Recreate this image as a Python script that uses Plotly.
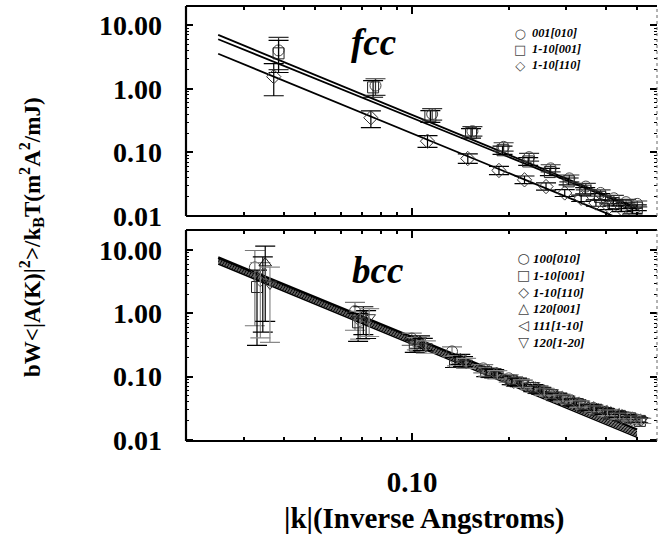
import plotly.graph_objects as go

# ---------------- data ----------------
# fcc panel
fcc_k_circle = [0.0385, 0.0770, 0.1155, 0.1540, 0.1925, 0.2310, 0.2695, 0.3080, 0.3465, 0.3850, 0.4235, 0.4620, 0.5005]
fcc_v_circle = [4.0, 1.12, 0.40, 0.215, 0.122, 0.084, 0.056, 0.039, 0.029, 0.023, 0.019, 0.0165, 0.0155]
fcc_k_square = [0.0385, 0.0757, 0.1140, 0.1525, 0.1910, 0.2295, 0.2680, 0.3065, 0.3450, 0.3835, 0.4220, 0.4605, 0.4990]
fcc_v_square = [3.6, 1.05, 0.37, 0.20, 0.108, 0.072, 0.049, 0.035, 0.025, 0.020, 0.016, 0.0145, 0.0135]
fcc_k_diamond = [0.0372, 0.0745, 0.1117, 0.1490, 0.1862, 0.2235, 0.2607, 0.2980, 0.3352, 0.3725, 0.4097, 0.4470, 0.4842]
fcc_v_diamond = [1.55, 0.35, 0.15, 0.080, 0.052, 0.037, 0.029, 0.023, 0.019, 0.016, 0.014, 0.013, 0.012]
fcc_err_up = [0.6, 0.28, 0.22, 0.18, 0.16, 0.15, 0.14, 0.13, 0.12, 0.12, 0.11, 0.11, 0.11]
fcc_err_dn = [0.5, 0.30, 0.20, 0.16, 0.14, 0.13, 0.12, 0.12, 0.11, 0.11, 0.10, 0.10, 0.10]

fit_k = [0.025, 0.5]
fcc_fit_circle = [7.0, 0.0135]
fcc_fit_square = [6.0, 0.0128]
fcc_fit_diamond = [3.55, 0.0070]

# bcc panel
bcc_k_circle = [0.0325, 0.0665, 0.0998, 0.1331, 0.1664, 0.1997, 0.2330, 0.2663, 0.2996, 0.3329, 0.3662, 0.3995, 0.4328, 0.4661, 0.4994]
bcc_v_circle = [5.3, 1.08, 0.40, 0.25, 0.135, 0.094, 0.071, 0.055, 0.044, 0.037, 0.032, 0.028, 0.025, 0.023, 0.021]
bcc_k_square = [0.0330, 0.0680, 0.1020, 0.1360, 0.1700, 0.2040, 0.2380, 0.2720, 0.3060, 0.3400, 0.3740, 0.4080, 0.4420, 0.4760, 0.5100]
bcc_v_square = [2.6, 0.72, 0.31, 0.17, 0.118, 0.086, 0.066, 0.051, 0.041, 0.034, 0.030, 0.026, 0.024, 0.022, 0.020]
bcc_k_diamond = [0.0338, 0.0690, 0.1035, 0.1380, 0.1725, 0.2070, 0.2415, 0.2760, 0.3105, 0.3450, 0.3795, 0.4140, 0.4485, 0.4830]
bcc_v_diamond = [3.4, 0.78, 0.34, 0.18, 0.12, 0.084, 0.064, 0.050, 0.041, 0.034, 0.029, 0.026, 0.0235, 0.0215]
bcc_k_tup = [0.0350, 0.0706, 0.1059, 0.1412, 0.1765, 0.2118, 0.2471, 0.2824, 0.3177, 0.3530, 0.3883, 0.4236, 0.4589, 0.4942]
bcc_v_tup = [6.2, 0.92, 0.36, 0.19, 0.115, 0.083, 0.063, 0.049, 0.040, 0.033, 0.029, 0.026, 0.023, 0.021]
bcc_k_tleft = [0.0344, 0.0720, 0.1080, 0.1440, 0.1800, 0.2160, 0.2520, 0.2880, 0.3240, 0.3600, 0.3960, 0.4320, 0.4680, 0.5040]
bcc_v_tleft = [4.2, 0.80, 0.33, 0.175, 0.112, 0.080, 0.060, 0.047, 0.038, 0.032, 0.028, 0.025, 0.022, 0.0205]
bcc_k_tdown = [0.0362, 0.0736, 0.1104, 0.1472, 0.1840, 0.2208, 0.2576, 0.2944, 0.3312, 0.3680, 0.4048, 0.4416, 0.4784, 0.5152]
bcc_v_tdown = [2.9, 0.86, 0.30, 0.165, 0.108, 0.078, 0.058, 0.046, 0.037, 0.031, 0.027, 0.024, 0.022, 0.020]
bcc_err_up = [0.85, 0.38, 0.22, 0.18, 0.15, 0.14, 0.13, 0.12, 0.12, 0.11, 0.11, 0.10, 0.10, 0.10, 0.10]
bcc_err_dn = [0.88, 0.50, 0.22, 0.18, 0.15, 0.13, 0.12, 0.11, 0.11, 0.10, 0.10, 0.10, 0.09, 0.09, 0.09]

bcc_fit_circle = [7.6, 0.0146]
bcc_fit_square = [7.2, 0.0135]
bcc_fit_diamond = [6.9, 0.0128]
bcc_fit_tup = [6.6, 0.0122]
bcc_fit_tleft = [6.3, 0.0116]
bcc_fit_tdown = [6.0, 0.0110]

fcc_names = ["001[010]", "1-10[001]", "1-10[110]"]
fcc_glyphs = ["\u25CB", "\u25A1", "\u25C7"]
bcc_names = ["100[010]", "1-10[001]", "1-10[110]", "120[001]", "111[1-10]", "120[1-20]"]
bcc_glyphs = ["\u25CB", "\u25A1", "\u25C7", "\u25B3", "\u25C1", "\u25BD"]

y_tickvals = [0.01, 0.1, 1, 10]
y_ticktext = ["0.01", "0.10", "1.00", "10.00"]
x_tickvals = [0.1]
x_ticktext = ["0.10"]
x_minor = [0.03, 0.04, 0.05, 0.06, 0.07, 0.08, 0.09, 0.2, 0.3, 0.4, 0.5]
y_minor = [m * d for d in (0.01, 0.1, 1) for m in range(2, 10)]

SERIF = "Liberation Serif"
W, H = 659, 539
ML, MR, MT, MB = 186, 2, 6, 98
PW, PH = W - ML - MR, H - MT - MB


def px(x):
    return (x - ML) / PW


def py(y):
    return (H - MB - y) / PH


fig = go.Figure()


def add_series(k, v, up, dn, symbol, xa, ya, name, mcolor, ecolor):
    eu = [vi * u for vi, u in zip(v, up)]
    ed = [vi * d for vi, d in zip(v, dn)]
    fig.add_trace(go.Scatter(
        x=k, y=v, mode="markers", xaxis=xa, yaxis=ya, name=name, showlegend=False,
        marker=dict(symbol=symbol, size=11, color=mcolor, line=dict(width=1, color=mcolor)),
        error_y=dict(type="data", array=eu, arrayminus=ed, symmetric=False,
                     width=10, thickness=1.2, color=ecolor)))


def add_fit(vals, xa, ya, width):
    fig.add_trace(go.Scatter(x=fit_k, y=vals, mode="lines", xaxis=xa, yaxis=ya,
                             showlegend=False, hoverinfo="skip",
                             line=dict(color="black", width=width)))


# fcc
add_fit(fcc_fit_circle, "x", "y", 1.8)
add_fit(fcc_fit_square, "x", "y", 1.8)
add_fit(fcc_fit_diamond, "x", "y", 1.8)
add_series(fcc_k_circle, fcc_v_circle, fcc_err_up, fcc_err_dn, "circle-open", "x", "y", fcc_names[0], "#444", "#333")
add_series(fcc_k_square, fcc_v_square, fcc_err_up, fcc_err_dn, "square-open", "x", "y", fcc_names[1], "#222", "black")
add_series(fcc_k_diamond, fcc_v_diamond, fcc_err_up, fcc_err_dn, "diamond-open", "x", "y", fcc_names[2], "#333", "black")

# bcc
add_fit(bcc_fit_circle, "x2", "y2", 2.5)
add_fit(bcc_fit_square, "x2", "y2", 1)
add_fit(bcc_fit_diamond, "x2", "y2", 1)
add_fit(bcc_fit_tup, "x2", "y2", 1)
add_fit(bcc_fit_tleft, "x2", "y2", 1)
add_fit(bcc_fit_tdown, "x2", "y2", 1.5)
add_series(bcc_k_circle, bcc_v_circle, bcc_err_up, bcc_err_dn, "circle-open", "x2", "y2", bcc_names[0], "#444", "#777")
add_series(bcc_k_square, bcc_v_square, bcc_err_up, bcc_err_dn, "square-open", "x2", "y2", bcc_names[1], "#222", "black")
add_series(bcc_k_diamond, bcc_v_diamond, bcc_err_up, bcc_err_dn, "diamond-open", "x2", "y2", bcc_names[2], "#555", "#888")
add_series(bcc_k_tup, bcc_v_tup, bcc_err_up, bcc_err_dn, "triangle-up-open", "x2", "y2", bcc_names[3], "#222", "black")
add_series(bcc_k_tleft, bcc_v_tleft, bcc_err_up, bcc_err_dn, "triangle-left-open", "x2", "y2", bcc_names[4], "#555", "black")
add_series(bcc_k_tdown, bcc_v_tdown, bcc_err_up, bcc_err_dn, "triangle-down-open", "x2", "y2", bcc_names[5], "#333", "#888")

xrange = [-1.702, -0.2392]
xcommon = dict(type="log", range=xrange, domain=[0, 1], showline=False, mirror="ticks",
               ticks="inside", ticklen=8, tickwidth=1.5, tickcolor="black",
               tickvals=x_tickvals, ticktext=x_ticktext, showgrid=False, zeroline=False,
               minor=dict(tickvals=x_minor, ticks="inside", ticklen=4, tickwidth=1.5,
                          tickcolor="black", showgrid=False),
               tickfont=dict(family=SERIF, size=29, color="black", weight="bold"),
               ticklabelstandoff=21)
ycommon = dict(type="log", showline=False, mirror="ticks", ticks="inside", ticklen=7,
               tickwidth=1.5, tickcolor="black", tickvals=y_tickvals, ticktext=y_ticktext,
               showgrid=False, zeroline=False,
               minor=dict(tickvals=y_minor, ticks="inside", ticklen=3, tickwidth=1,
                          tickcolor="black", showgrid=False),
               tickfont=dict(family=SERIF, size=28, color="black", weight="bold"),
               ticklabelstandoff=23)

fig.update_layout(
    width=W, height=H,
    margin=dict(l=ML, r=MR, t=MT, b=MB),
    paper_bgcolor="white", plot_bgcolor="white",
    showlegend=False,
    xaxis=dict(xcommon, anchor="y", showticklabels=False),
    yaxis=dict(ycommon, domain=[py(216), 1.0], range=[-2.0, 1.3], anchor="x"),
    xaxis2=dict(xcommon, anchor="y2"),
    yaxis2=dict(ycommon, domain=[0.0, py(230)], range=[-2.016, 1.315], anchor="x2"),
)

# frames
shapes = []
for xr, yr in (("x domain", "y domain"), ("x2 domain", "y2 domain")):
    for (x0, y0, x1, y1) in ((0, 0, 1, 0), (0, 1, 1, 1), (0, 0, 0, 1)):
        shapes.append(dict(type="line", xref=xr, yref=yr, x0=x0, y0=y0, x1=x1, y1=y1,
                           line=dict(color="black", width=2.2)))
    shapes.append(dict(type="line", xref=xr, yref=yr, x0=1, y0=0, x1=1, y1=1,
                       line=dict(color="#666", width=1, dash="dot")))
fig.update_layout(shapes=shapes)


def ann(text, x, y, font, **kw):
    fig.add_annotation(text=text, xref="paper", yref="paper", x=px(x), y=py(y),
                       showarrow=False, font=font, **kw)


panel_font = dict(family=SERIF, size=37, color="black", style="italic", weight="bold")
ann("fcc", 373, 42, panel_font, xanchor="center", yanchor="middle")
ann("bcc", 377, 270, panel_font, xanchor="center", yanchor="middle")
ann("|k|(Inverse Angstroms)", 424, 518,
    dict(family=SERIF, size=29, color="black", weight="bold"), xanchor="center", yanchor="middle")
ann("bW&lt;|A(K)|<sup>2</sup>&gt;/k<sub>B</sub>T(m<sup>2</sup>A<sup>2</sup>/mJ)", 32, 237,
    dict(family=SERIF, size=23, color="black", weight="bold"),
    xanchor="center", yanchor="middle", textangle=-90)


# legends: one column of symbols and one column of labels per panel
def legend_block(glyphs, names, x_sym, x_txt, y_first, spacing, gsize):
    fs = spacing / 1.3
    nrows = len(names)
    y_mid = y_first + spacing * (nrows - 1) / 2
    sym_txt = "<br>".join('<span style="font-size:%dpx">%s</span>' % (gsize, g) for g in glyphs)
    ann(sym_txt, x_sym, y_mid, dict(family="DejaVu Sans", size=fs, color="#444"),
        xanchor="center", yanchor="middle", align="center")
    ann("<br>".join(names), x_txt, y_mid,
        dict(family=SERIF, size=fs, color="black", style="italic", weight="bold"),
        xanchor="left", yanchor="middle", align="left")


legend_block(fcc_glyphs, fcc_names, 520, 530, 33, 16.0, 13)
legend_block(bcc_glyphs, bcc_names, 523, 531, 258, 16.8, 14)

fig.write_html("out.html")
